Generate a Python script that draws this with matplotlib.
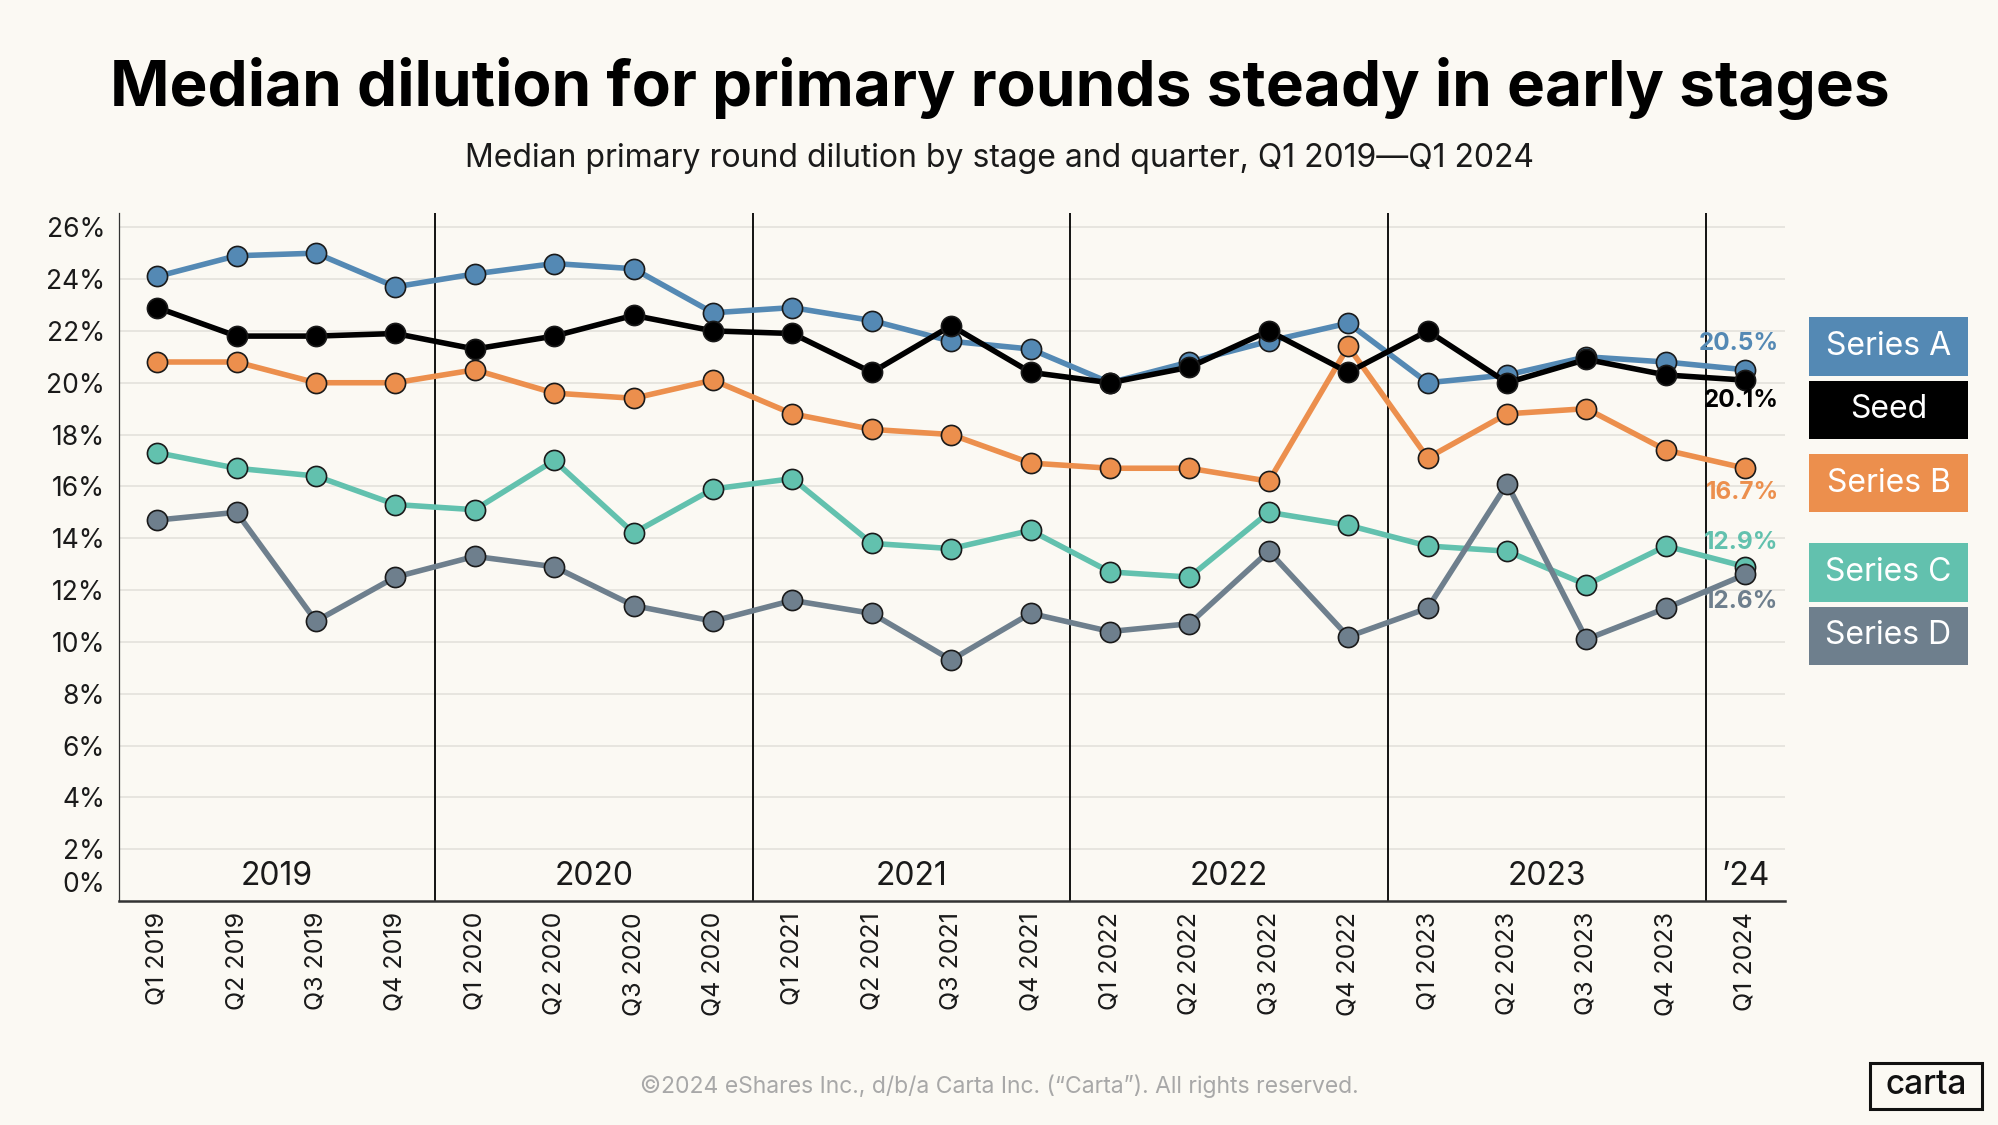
import matplotlib
matplotlib.use("Agg")
import matplotlib.pyplot as plt
from matplotlib.patches import Rectangle

plt.rcParams['font.family'] = ['Inter', 'DejaVu Sans']

quarters = ["Q1 2019", "Q2 2019", "Q3 2019", "Q4 2019",
            "Q1 2020", "Q2 2020", "Q3 2020", "Q4 2020",
            "Q1 2021", "Q2 2021", "Q3 2021", "Q4 2021",
            "Q1 2022", "Q2 2022", "Q3 2022", "Q4 2022",
            "Q1 2023", "Q2 2023", "Q3 2023", "Q4 2023",
            "Q1 2024"]

series_a = [24.1, 24.9, 25.0, 23.7, 24.2, 24.6, 24.4, 22.7, 22.9, 22.4, 21.6,
            21.3, 20.0, 20.8, 21.6, 22.3, 20.0, 20.3, 21.0, 20.8, 20.5]
seed = [22.9, 21.8, 21.8, 21.9, 21.3, 21.8, 22.6, 22.0, 21.9, 20.4, 22.2,
        20.4, 20.0, 20.6, 22.0, 20.4, 22.0, 20.0, 20.9, 20.3, 20.1]
series_b = [20.8, 20.8, 20.0, 20.0, 20.5, 19.6, 19.4, 20.1, 18.8, 18.2, 18.0,
            16.9, 16.7, 16.7, 16.2, 21.4, 17.1, 18.8, 19.0, 17.4, 16.7]
series_c = [17.3, 16.7, 16.4, 15.3, 15.1, 17.0, 14.2, 15.9, 16.3, 13.8, 13.6,
            14.3, 12.7, 12.5, 15.0, 14.5, 13.7, 13.5, 12.2, 13.7, 12.9]
series_d = [14.7, 15.0, 10.8, 12.5, 13.3, 12.9, 11.4, 10.8, 11.6, 11.1, 9.3,
            11.1, 10.4, 10.7, 13.5, 10.2, 11.3, 16.1, 10.1, 11.3, 12.6]

series_names = ["Series A", "Seed", "Series B", "Series C", "Series D"]
series_values = [series_a, seed, series_b, series_c, series_d]
end_labels = ["20.5%", "20.1%", "16.7%", "12.9%", "12.6%"]
years = ["2019", "2020", "2021", "2022", "2023", "\u201924"]
ytick_values = [2, 4, 6, 8, 10, 12, 14, 16, 18, 20, 22, 24, 26]

colors = ["#5489b4", "#000000", "#ec8f4d", "#62c1ae", "#6e7f8d"]
label_offsets = [1.0, -0.78, -0.95, 0.95, -1.05]   # vertical offset of end labels (style)
legend_boxes_px = [(317, 376), (381, 439), (454, 512), (543, 602), (607, 665)]
zorders = [3, 4, 2, 2, 3]

BG = "#fbf9f3"
W, H = 1999, 1125
fig = plt.figure(figsize=(W / 100, H / 100), dpi=100, facecolor=BG)
ax = fig.add_axes([119 / W, 1 - 901 / H, (1785 - 119) / W, (901 - 213) / H])
ax.set_facecolor(BG)

x = list(range(len(quarters)))
for vals, col, z in zip(series_values, colors, zorders):
    ax.plot(x, vals, color=col, lw=4.0, zorder=z,
            marker='o', markersize=14.5, markerfacecolor=col,
            markeredgecolor="#1a1a1a", markeredgewidth=1.2)

for vals, col, lab, off in zip(series_values, colors, end_labels, label_offsets):
    ax.text(x[-1] + 0.42, vals[-1] + off, lab, color=col, fontsize=17.5,
            fontweight='bold', ha='right', va='center', zorder=6)

ax.set_xlim(-0.48, 20.5)
ax.set_ylim(0, 26.55)
ax.set_yticks(ytick_values)
ax.set_yticklabels([f"{v}%" for v in ytick_values], fontsize=19, color="#1a1a1a")
ax.annotate("0%", xy=(0, 0.62), xycoords=('axes fraction', 'data'),
            xytext=(-10, 0), textcoords='offset points', ha='right', va='center',
            fontsize=19, color="#1a1a1a")
ax.set_xticks(x)
ax.set_xticklabels(quarters, rotation=90, fontsize=18, color="#1a1a1a")
ax.tick_params(axis='both', length=0)
ax.tick_params(axis='x', pad=8)
ax.tick_params(axis='y', pad=10)
ax.grid(axis='y', color="#e3e1dc", lw=1.2, zorder=0)
ax.set_axisbelow(True)

for s in ['top', 'right']:
    ax.spines[s].set_visible(False)
ax.spines['left'].set_color("#333333")
ax.spines['left'].set_linewidth(0.9)
ax.spines['bottom'].set_color("#333333")
ax.spines['bottom'].set_linewidth(1.8)

# year separators and labels
for b in [3.5, 7.5, 11.5, 15.5, 19.5]:
    ax.axvline(b, color="#000000", lw=1.3, zorder=1)
year_centers = [1.5, 5.5, 9.5, 13.5, 17.5, 20.0]
for yc, yl in zip(year_centers, years):
    ax.text(yc, 0.96, yl, ha='center', va='center', fontsize=23, color="#1a1a1a")

# titles
fig.text(0.5, 1 - 89 / H, "Median dilution for primary rounds steady in early stages",
         ha='center', va='center', fontsize=46, fontweight='bold', color="#000000")
fig.text(0.5, 1 - 159 / H, "Median primary round dilution by stage and quarter, Q1 2019\u2014Q1 2024",
         ha='center', va='center', fontsize=23, color="#1a1a1a")

# legend boxes
for (top, bot), name, col in zip(legend_boxes_px, series_names, colors):
    fig.patches.append(Rectangle((1809 / W, 1 - bot / H), (1968 - 1809) / W, (bot - top) / H,
                                 transform=fig.transFigure, facecolor=col, edgecolor='none'))
    fig.text((1809 + 1968) / 2 / W, 1 - (top + bot) / 2 / H, name, ha='center', va='center',
             fontsize=23, color='white')

# footer
fig.text(0.5, 1 - 1086 / H,
         "\u00a92024 eShares Inc., d/b/a Carta Inc. (\u201cCarta\u201d). All rights reserved.",
         ha='center', va='center', fontsize=16.5, color="#a8a8a8")
fig.patches.append(Rectangle((1870 / W, 1 - 1109 / H), (1982 - 1870) / W, (1109 - 1063) / H,
                             transform=fig.transFigure, facecolor='none', edgecolor='#111111', lw=2.2))
fig.text((1870 + 1982) / 2 / W, 1 - 1085 / H, "carta", ha='center', va='center',
         fontsize=24, fontweight='medium', color='#111111')

fig.savefig("out.png", dpi=100, facecolor=BG)
